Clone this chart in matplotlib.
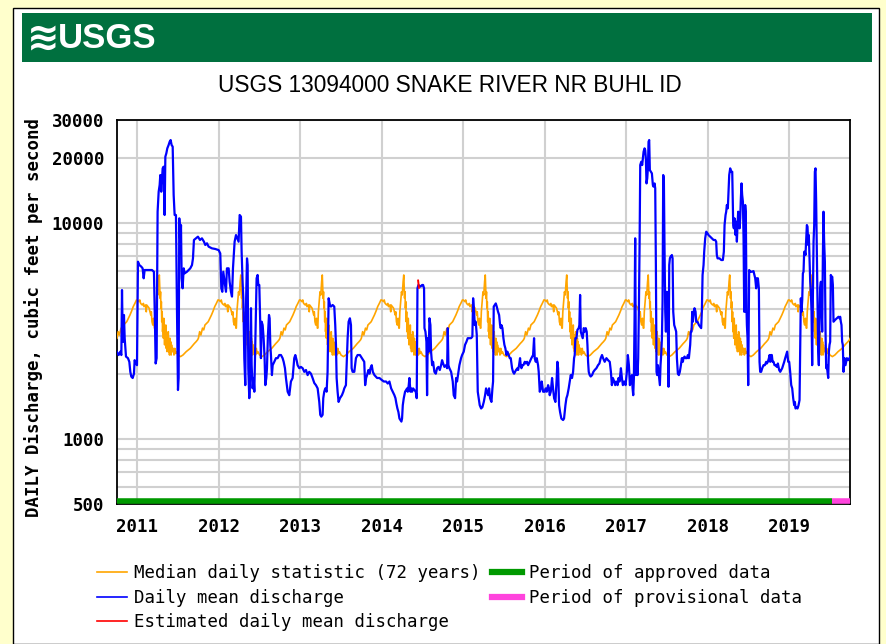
import matplotlib
matplotlib.use("Agg")
import matplotlib.pyplot as plt
import numpy as np
from matplotlib.lines import Line2D
from matplotlib.patches import Rectangle
from matplotlib.ticker import NullLocator

W, H = 886, 644
X0, X1 = 2010.747, 2019.75          # Oct 1 2010 .. Oct 1 2019
PROVISIONAL_FROM = 2019.524

# daily mean discharge (decimal year, cfs)
FLOW_A = [(2010.747, 2530), (2010.771, 2440), (2010.791, 2530), (2010.804, 2440), (2010.812, 4880),
          (2010.820, 3130), (2010.828, 2810), (2010.836, 3740), (2010.845, 2920), (2010.861, 2400),
          (2010.885, 2360), (2010.902, 2270), (2010.914, 2040), (2010.926, 1940), (2010.943, 1910),
          (2010.959, 2000), (2010.967, 2310), (2010.984, 2230), (2010.996, 2190), (2011.008, 6600),
          (2011.025, 6370), (2011.049, 6260), (2011.065, 6150), (2011.078, 5530), (2011.090, 6040),
          (2011.119, 6040), (2011.147, 6040), (2011.180, 6040), (2011.204, 5930), (2011.217, 3360),
          (2011.225, 2230), (2011.237, 2360), (2011.249, 11250), (2011.262, 13920), (2011.274, 14950),
          (2011.282, 16630), (2011.294, 13920), (2011.303, 15760), (2011.311, 17860), (2011.323, 18180),
          (2011.335, 10860), (2011.344, 20220), (2011.356, 20950), (2011.368, 22100), (2011.384, 22900),
          (2011.397, 23720), (2011.409, 24150), (2011.421, 22900), (2011.434, 22500), (2011.446, 13440),
          (2011.458, 10860), (2011.474, 10860), (2011.487, 3870), (2011.499, 1680), (2011.507, 1910),
          (2011.515, 10480), (2011.528, 7890), (2011.536, 9760), (2011.544, 5530), (2011.556, 4970),
          (2011.569, 6150), (2011.581, 5830), (2011.609, 5930), (2011.650, 6150), (2011.671, 6370),
          (2011.683, 6840), (2011.695, 8320), (2011.720, 8470), (2011.744, 8620), (2011.769, 8320),
          (2011.793, 8470), (2011.818, 8170), (2011.834, 7890), (2011.855, 8030), (2011.875, 7750),
          (2011.916, 7610), (2011.957, 7560), (2011.998, 7470), (2012.018, 7210), (2012.031, 4970),
          (2012.043, 4790), (2012.055, 5930), (2012.072, 5330), (2012.088, 4790), (2012.100, 6150),
          (2012.121, 6150), (2012.133, 5330), (2012.149, 4790), (2012.162, 4550), (2012.174, 6150),
          (2012.194, 8170), (2012.211, 8770), (2012.227, 8470), (2012.243, 8170), (2012.256, 10860)]

FLOW_B = [(2012.272, 10670), (2012.280, 7340), (2012.292, 5330), (2012.301, 4470), (2012.313, 2360),
          (2012.325, 1770), (2012.333, 4020), (2012.346, 6840), (2012.354, 6370), (2012.362, 2120),
          (2012.374, 1540), (2012.382, 1770), (2012.395, 4020), (2012.403, 2190), (2012.415, 1710),
          (2012.427, 1910), (2012.436, 1650), (2012.448, 2810), (2012.464, 5530), (2012.476, 5730),
          (2012.485, 5150), (2012.497, 5150), (2012.509, 3360), (2012.517, 2360), (2012.526, 3480),
          (2012.538, 3360), (2012.550, 2920), (2012.562, 2360), (2012.571, 1770), (2012.583, 1910),
          (2012.591, 2120), (2012.603, 3020), (2012.616, 3740), (2012.624, 3610), (2012.632, 2720),
          (2012.640, 2440), (2012.652, 1970), (2012.661, 2190), (2012.681, 2270), (2012.701, 2360),
          (2012.722, 2360), (2012.742, 2440), (2012.763, 2440), (2012.783, 2360), (2012.796, 2270),
          (2012.812, 2120), (2012.824, 1910), (2012.845, 1650), (2012.865, 1590), (2012.885, 1840),
          (2012.906, 1910), (2012.926, 2360), (2012.939, 2440), (2012.955, 2310), (2012.967, 2190),
          (2012.988, 2120), (2013.008, 2150), (2013.029, 2120), (2013.049, 2040), (2013.070, 2080),
          (2013.090, 1970), (2013.110, 2040), (2013.131, 2000), (2013.151, 1910), (2013.172, 1810),
          (2013.192, 1770), (2013.213, 1710), (2013.233, 1480), (2013.245, 1290), (2013.258, 1265),
          (2013.274, 1290), (2013.282, 1540), (2013.294, 1650), (2013.307, 1710), (2013.323, 1650),
          (2013.335, 2040), (2013.348, 4470), (2013.364, 4160), (2013.376, 4090), (2013.397, 4160),
          (2013.417, 4090), (2013.429, 3360), (2013.438, 2720), (2013.446, 1910), (2013.458, 1650),
          (2013.470, 1480), (2013.487, 1540), (2013.511, 1590), (2013.528, 1650), (2013.540, 1710),
          (2013.560, 1770), (2013.581, 2920), (2013.593, 3480), (2013.609, 3610), (2013.622, 3360),
          (2013.630, 2120), (2013.642, 2040), (2013.663, 2040), (2013.683, 2360), (2013.703, 2440),
          (2013.732, 2440), (2013.757, 2360), (2013.785, 2270)]

FLOW_C = [(2013.796, 1770), (2013.808, 1910), (2013.820, 1970), (2013.836, 2080), (2013.849, 2000),
          (2013.861, 2120), (2013.877, 2190), (2013.890, 2040), (2013.910, 1970), (2013.943, 1910),
          (2013.971, 1910), (2014.000, 1870), (2014.025, 1840), (2014.053, 1840), (2014.074, 1800),
          (2014.094, 1840), (2014.115, 1710), (2014.135, 1650), (2014.155, 1590), (2014.168, 1540),
          (2014.180, 1450), (2014.192, 1380), (2014.204, 1330), (2014.217, 1240), (2014.229, 1220),
          (2014.241, 1200), (2014.249, 1240), (2014.258, 1430), (2014.270, 1540), (2014.286, 1650),
          (2014.299, 1680), (2014.311, 1710), (2014.319, 1650), (2014.331, 1770), (2014.339, 1910),
          (2014.352, 1650), (2014.360, 1710), (2014.372, 1650), (2014.384, 1710), (2014.401, 1680),
          (2014.417, 1650), (2014.429, 1540), (2014.438, 4970), (2014.450, 5150), (2014.474, 5060),
          (2014.495, 5150), (2014.507, 5150), (2014.519, 4970), (2014.524, 3250), (2014.536, 3130),
          (2014.548, 2810), (2014.556, 1590), (2014.564, 2920), (2014.577, 2530), (2014.585, 3610),
          (2014.597, 3360), (2014.605, 2530), (2014.618, 2190), (2014.630, 2270), (2014.646, 2040),
          (2014.663, 2000), (2014.679, 2120), (2014.695, 2150), (2014.712, 2080), (2014.728, 2190),
          (2014.740, 2310), (2014.753, 2230), (2014.769, 2150), (2014.789, 2190), (2014.802, 2120),
          (2014.810, 3250), (2014.818, 2190), (2014.830, 2120), (2014.851, 2040), (2014.871, 1840),
          (2014.883, 1590), (2014.900, 1540), (2014.912, 1910), (2014.924, 1840), (2014.941, 2040),
          (2014.953, 2190), (2014.973, 2360), (2014.986, 2440), (2015.006, 2530), (2015.022, 2720),
          (2015.039, 2810), (2015.055, 2920), (2015.096, 2920), (2015.112, 2970), (2015.121, 4470),
          (2015.133, 3870), (2015.141, 3360), (2015.153, 3480), (2015.166, 3020), (2015.178, 1650),
          (2015.190, 1540), (2015.202, 1430), (2015.219, 1380), (2015.235, 1400), (2015.252, 1480),
          (2015.268, 1590), (2015.280, 1710)]

FLOW_D = [(2015.305, 1590), (2015.317, 1710), (2015.329, 1540), (2015.346, 1480), (2015.358, 1710),
          (2015.366, 1840), (2015.374, 4090), (2015.387, 4160), (2015.399, 4230), (2015.411, 4090),
          (2015.427, 3870), (2015.440, 3740), (2015.452, 3360), (2015.460, 3250), (2015.468, 3360),
          (2015.481, 3250), (2015.493, 2920), (2015.505, 2720), (2015.517, 2620), (2015.530, 2440),
          (2015.542, 2530), (2015.558, 2440), (2015.571, 2360), (2015.583, 2360), (2015.599, 2120),
          (2015.611, 2040), (2015.624, 2000), (2015.636, 2040), (2015.648, 2080), (2015.665, 2120),
          (2015.673, 2080), (2015.685, 2190), (2015.697, 2360), (2015.705, 2190), (2015.714, 2120),
          (2015.726, 2190), (2015.738, 2190), (2015.755, 2270), (2015.767, 2230), (2015.783, 2270),
          (2015.796, 2190), (2015.816, 2270), (2015.836, 2360), (2015.857, 2440), (2015.869, 2920),
          (2015.877, 2360), (2015.890, 2270), (2015.902, 2360), (2015.918, 2190), (2015.926, 2040),
          (2015.939, 1650), (2015.951, 1710), (2015.963, 1840), (2015.980, 1650), (2016.000, 1650),
          (2016.012, 1710), (2016.025, 1650), (2016.041, 1770), (2016.053, 1710), (2016.061, 1590),
          (2016.074, 1650), (2016.090, 1910), (2016.102, 1710), (2016.115, 1540), (2016.131, 1480),
          (2016.147, 1910), (2016.155, 2270), (2016.164, 2120), (2016.176, 1430), (2016.188, 1330),
          (2016.204, 1240), (2016.225, 1220), (2016.237, 1240), (2016.254, 1430), (2016.266, 1540),
          (2016.278, 1590), (2016.294, 1710), (2016.307, 1840), (2016.319, 1970), (2016.335, 1910),
          (2016.348, 2040), (2016.360, 2360), (2016.368, 2440), (2016.376, 2920), (2016.389, 2920),
          (2016.401, 3190), (2016.417, 3250), (2016.425, 3360), (2016.434, 4630), (2016.442, 3130),
          (2016.454, 3020), (2016.466, 2920), (2016.479, 3250), (2016.491, 3130), (2016.503, 3250),
          (2016.515, 3130), (2016.524, 2720), (2016.532, 2270), (2016.540, 2040), (2016.552, 1970),
          (2016.564, 1940), (2016.581, 1970), (2016.597, 2040), (2016.613, 2080), (2016.634, 2120),
          (2016.654, 2190), (2016.671, 2230), (2016.687, 2360), (2016.703, 2440), (2016.716, 2360),
          (2016.736, 2270), (2016.757, 2360), (2016.777, 2310), (2016.798, 2270)]

FLOW_E = [(2016.812, 2040), (2016.824, 1770), (2016.836, 1910), (2016.853, 1840), (2016.865, 1770),
          (2016.877, 1840), (2016.894, 1770), (2016.906, 1910), (2016.918, 1840), (2016.935, 2120),
          (2016.947, 1910), (2016.959, 1770), (2016.975, 1840), (2016.992, 1770), (2017.008, 2040),
          (2017.020, 2440), (2017.033, 2190), (2017.045, 1770), (2017.057, 1840), (2017.070, 1970),
          (2017.078, 1710), (2017.086, 1590), (2017.094, 1910), (2017.102, 3480), (2017.110, 8470),
          (2017.119, 1970), (2017.131, 2190), (2017.139, 1970), (2017.147, 2360), (2017.155, 3870),
          (2017.164, 7890), (2017.172, 18500), (2017.184, 19160), (2017.196, 18500), (2017.204, 19870),
          (2017.213, 21320), (2017.225, 22100), (2017.233, 21700), (2017.241, 19870), (2017.249, 15210),
          (2017.258, 16050), (2017.266, 17860), (2017.274, 23720), (2017.282, 24150), (2017.290, 17540),
          (2017.303, 17230), (2017.315, 16930), (2017.327, 14950), (2017.335, 14690), (2017.348, 15210),
          (2017.356, 14430), (2017.364, 6370), (2017.372, 2040), (2017.380, 1970), (2017.389, 2190),
          (2017.397, 2040), (2017.405, 1910), (2017.413, 1770), (2017.421, 2190), (2017.429, 2440),
          (2017.438, 2920), (2017.446, 4310), (2017.454, 16630), (2017.462, 16050), (2017.470, 7610),
          (2017.479, 3870), (2017.487, 3130), (2017.499, 4790), (2017.511, 3480), (2017.519, 1740),
          (2017.528, 6370), (2017.536, 6840), (2017.544, 6960), (2017.552, 6960), (2017.560, 7090),
          (2017.569, 6840), (2017.577, 3870), (2017.589, 3360), (2017.601, 3250), (2017.613, 3130),
          (2017.622, 2360), (2017.634, 2000), (2017.646, 1970), (2017.658, 2040), (2017.671, 2190),
          (2017.683, 2360), (2017.695, 2270), (2017.703, 2360), (2017.716, 2400), (2017.728, 2360),
          (2017.744, 2360), (2017.757, 2440), (2017.769, 2360), (2017.777, 2530), (2017.785, 2720),
          (2017.793, 3130), (2017.802, 3130), (2017.810, 3870), (2017.818, 3480), (2017.826, 3740),
          (2017.838, 4020), (2017.851, 3870), (2017.859, 3480), (2017.875, 3480), (2017.892, 3360),
          (2017.908, 3300), (2017.920, 3250), (2017.928, 3870), (2017.937, 5730), (2017.949, 6370),
          (2017.957, 7340), (2017.969, 8470), (2017.982, 9090), (2017.998, 8930), (2018.010, 8770),
          (2018.031, 8620), (2018.051, 8470), (2018.072, 8320), (2018.092, 8320), (2018.104, 8170),
          (2018.112, 7090), (2018.121, 6840), (2018.145, 6840), (2018.166, 6720), (2018.186, 6720),
          (2018.198, 7340), (2018.207, 9760), (2018.219, 10860), (2018.227, 11250), (2018.235, 12080),
          (2018.247, 11660), (2018.256, 13920), (2018.264, 16630), (2018.276, 17860), (2018.288, 17230),
          (2018.301, 17230)]

FLOW_F = [(2018.313, 9760), (2018.321, 9420), (2018.329, 10480), (2018.342, 8770), (2018.350, 10110),
          (2018.358, 8170), (2018.366, 9760), (2018.374, 11250), (2018.382, 10860), (2018.391, 9420),
          (2018.399, 10480), (2018.407, 12970), (2018.415, 15210), (2018.423, 13440), (2018.432, 12510),
          (2018.440, 8470), (2018.448, 3870), (2018.456, 3870), (2018.460, 12080), (2018.468, 10860),
          (2018.477, 3870), (2018.481, 3360), (2018.489, 2920), (2018.497, 1770), (2018.509, 6040),
          (2018.521, 5930), (2018.542, 5930), (2018.562, 5970), (2018.583, 5530), (2018.595, 4970),
          (2018.603, 5530), (2018.616, 5530), (2018.628, 4970), (2018.636, 2270), (2018.644, 2040),
          (2018.656, 2040), (2018.669, 2120), (2018.685, 2190), (2018.701, 2190), (2018.718, 2270),
          (2018.726, 2230), (2018.738, 2270), (2018.751, 2360), (2018.759, 2440), (2018.767, 2270),
          (2018.775, 2440), (2018.787, 2440), (2018.796, 2270), (2018.808, 2270), (2018.820, 2190),
          (2018.832, 2190), (2018.849, 2150), (2018.861, 2230), (2018.877, 2080), (2018.890, 2040),
          (2018.902, 2080), (2018.914, 2120), (2018.926, 2190), (2018.939, 2270), (2018.951, 2360),
          (2018.963, 2440), (2018.975, 2530), (2018.988, 2270), (2019.000, 2270), (2019.012, 2040),
          (2019.025, 1770), (2019.037, 1710), (2019.049, 1540), (2019.061, 1430), (2019.070, 1480),
          (2019.078, 1380), (2019.090, 1400), (2019.102, 1380), (2019.115, 1430), (2019.127, 1510),
          (2019.135, 2720), (2019.143, 4470), (2019.151, 3870), (2019.160, 4390), (2019.168, 5830),
          (2019.176, 5930), (2019.184, 7340), (2019.192, 7340), (2019.200, 7090), (2019.209, 8470),
          (2019.217, 9760), (2019.225, 9590), (2019.233, 7890), (2019.241, 8770), (2019.249, 6840),
          (2019.258, 5330), (2019.266, 4790), (2019.274, 3870), (2019.282, 2190), (2019.290, 4310),
          (2019.299, 8170), (2019.307, 9760), (2019.315, 17230), (2019.323, 17860), (2019.331, 12510),
          (2019.339, 7340), (2019.348, 4160), (2019.356, 2530), (2019.364, 2190), (2019.372, 3480),
          (2019.380, 4970), (2019.389, 5330), (2019.397, 4020), (2019.405, 3130), (2019.413, 6840),
          (2019.421, 11250), (2019.429, 8170), (2019.438, 6600), (2019.446, 3130), (2019.454, 2120),
          (2019.462, 2190), (2019.470, 2040), (2019.479, 1910), (2019.487, 2530), (2019.495, 2720),
          (2019.503, 2810), (2019.511, 5730), (2019.519, 5530), (2019.528, 5630), (2019.536, 5150),
          (2019.544, 3480), (2019.564, 3550), (2019.585, 3610), (2019.605, 3670), (2019.618, 3610),
          (2019.626, 3670), (2019.634, 3480), (2019.642, 3360), (2019.650, 2810), (2019.658, 2720),
          (2019.667, 2040), (2019.679, 2360), (2019.691, 2190), (2019.708, 2360), (2019.724, 2310),
          (2019.740, 2360), (2019.749, 2400)]

# estimated daily mean (short red tick in mid 2014)
ESTIMATED = [(2014.446, 5400), (2014.456, 5000)]

# median daily statistic (72 years): one calendar year, fraction of year -> cfs
MEDIAN_FRAC = [0.000, 0.020, 0.030, 0.041, 0.061, 0.075, 0.082, 0.100, 0.110, 0.115, 0.130, 0.145,
               0.155, 0.165, 0.172, 0.180, 0.190, 0.200, 0.210, 0.215, 0.222, 0.232, 0.242, 0.252,
               0.262, 0.270, 0.274, 0.280, 0.285, 0.290, 0.295, 0.300, 0.305, 0.310, 0.315, 0.320,
               0.325, 0.330, 0.335, 0.340, 0.345, 0.350, 0.355, 0.360, 0.365, 0.370, 0.375, 0.380,
               0.385, 0.390, 0.395, 0.400, 0.405, 0.410, 0.415, 0.420, 0.430, 0.440, 0.450, 0.460,
               0.470, 0.480, 0.500, 0.530, 0.560, 0.600, 0.650, 0.700, 0.720, 0.740, 0.750, 0.765,
               0.780, 0.800, 0.815, 0.830, 0.850, 0.870, 0.890, 0.910, 0.930, 0.950, 0.970, 0.990]
MEDIAN_CFS = [4390, 4310, 4390, 4230, 4160, 4230, 4090, 4160, 3870, 4160, 4090, 4020,
              3870, 3740, 3870, 3480, 3360, 3610, 3250, 3250, 3870, 4310, 4790, 4630,
              5330, 5730, 5150, 4470, 4790, 4020, 4310, 3480, 3870, 3130, 3360, 2920,
              3610, 3130, 2720, 3250, 2810, 3360, 2620, 3020, 2530, 2920, 2720, 3130,
              2530, 2810, 2440, 2920, 2620, 2810, 2440, 2720, 2530, 2620, 2440, 2620,
              2480, 2530, 2440, 2400, 2440, 2530, 2620, 2760, 2810, 2870, 2920, 3130,
              3020, 3250, 3190, 3360, 3420, 3480, 3610, 3740, 3900, 4090, 4230, 4390]

YEARS = list(range(2011, 2020))
GRID_Y = [500, 600, 700, 800, 900, 1000, 2000, 3000, 4000, 5000, 6000, 7000, 8000, 9000,
          10000, 20000, 30000]
LABELED_Y = [500, 1000, 10000, 20000, 30000]

MONO = "DejaVu Sans Mono"
SANS = ["Liberation Sans", "DejaVu Sans"]

fig = plt.figure(figsize=(W / 100, H / 100), dpi=100, facecolor="#FFFFCC")

# page panel, banner, logo, title
fig.add_artist(Rectangle((13 / W, 0), 866 / W, 1 - 8 / H, transform=fig.transFigure,
                         fc="white", ec="black", lw=1.0, zorder=0))
fig.add_artist(Rectangle((22 / W, 1 - 62 / H), 850 / W, 49 / H, transform=fig.transFigure,
                         fc="#00703F", ec="none", zorder=1))
fig.text(27 / W, 1 - 38 / H, "\u224b", color="white", fontsize=28, fontweight="bold",
         va="center", ha="left", family="DejaVu Sans")
fig.text(58 / W, 1 - 38 / H, "USGS", color="white", fontsize=25, fontweight="bold",
         va="center", ha="left", family=SANS)
fig.text(450 / W, 1 - 85 / H, "USGS 13094000 SNAKE RIVER NR BUHL ID", fontsize=16.3,
         ha="center", va="center", family=SANS)

ax = fig.add_axes([116.7 / W, 1 - 503.7 / H, (850.3 - 116.7) / W, (503.7 - 119.7) / H])
ax.set_yscale("log")
ax.set_xlim(X0, X1)
ax.set_ylim(500, 30000)

flow = np.array(FLOW_A + FLOW_B + FLOW_C + FLOW_D + FLOW_E + FLOW_F)

# median statistic repeats every calendar year
med_x = np.concatenate([yr + np.array(MEDIAN_FRAC) for yr in range(2010, 2020)])
med_y = np.tile(MEDIAN_CFS, 10)
keep = (med_x >= X0) & (med_x <= X1)

ax.plot(med_x[keep], med_y[keep], color="#FFA500", lw=1.2, zorder=3)
ax.plot(flow[:, 0], flow[:, 1], color="#0000FF", lw=1.6, zorder=4)
est = np.array(ESTIMATED)
ax.plot(est[:, 0], est[:, 1], color="#FF0000", lw=1.4, zorder=5)

# approval status bar along the bottom
ax.plot([X0, PROVISIONAL_FROM], [512, 512], color="#009900", lw=4, solid_capstyle="butt",
        clip_on=False, zorder=6)
ax.plot([PROVISIONAL_FROM, X1], [512, 512], color="#FF44DD", lw=4, solid_capstyle="butt",
        clip_on=False, zorder=6)

ax.set_yticks(GRID_Y, labels=[str(v) if v in LABELED_Y else "" for v in GRID_Y])
ax.yaxis.set_minor_locator(NullLocator())
ax.set_xticks(YEARS, labels=[str(y) for y in YEARS])
ax.grid(True, color="#D0D0D0", lw=1.5, zorder=1)
ax.tick_params(length=0, labelsize=12.5)
ax.tick_params(axis="y", pad=9)
ax.tick_params(axis="x", pad=10)
for lab in ax.get_xticklabels() + ax.get_yticklabels():
    lab.set_family(MONO)
    lab.set_fontweight("bold")
for sp in ax.spines.values():
    sp.set_color("black")
    sp.set_linewidth(1.3)

ax.set_ylabel("DAILY Discharge, cubic feet per second", family=MONO, fontweight="bold",
              fontsize=12.5)
ax.yaxis.set_label_coords(-0.100, 0.484)

handles = [Line2D([], [], color="#FFA500", lw=1.2),
           Line2D([], [], color="#0000FF", lw=1.2),
           Line2D([], [], color="#FF0000", lw=1.2),
           Line2D([], [], color="#009900", lw=4.5),
           Line2D([], [], color="#FF44DD", lw=4.5)]
labels = ["Median daily statistic (72 years)", "Daily mean discharge",
          "Estimated daily mean discharge", "Period of approved data",
          "Period of provisional data"]
fig.legend(handles, labels, loc="upper left", bbox_to_anchor=(97 / W, 1 - 564 / H), ncol=2,
           frameon=False, prop={"family": MONO, "size": 12.5}, handlelength=1.7,
           handletextpad=0.45, columnspacing=0.65, labelspacing=0.38, borderpad=0,
           borderaxespad=0)

fig.savefig("out.png", dpi=100, facecolor=fig.get_facecolor())
